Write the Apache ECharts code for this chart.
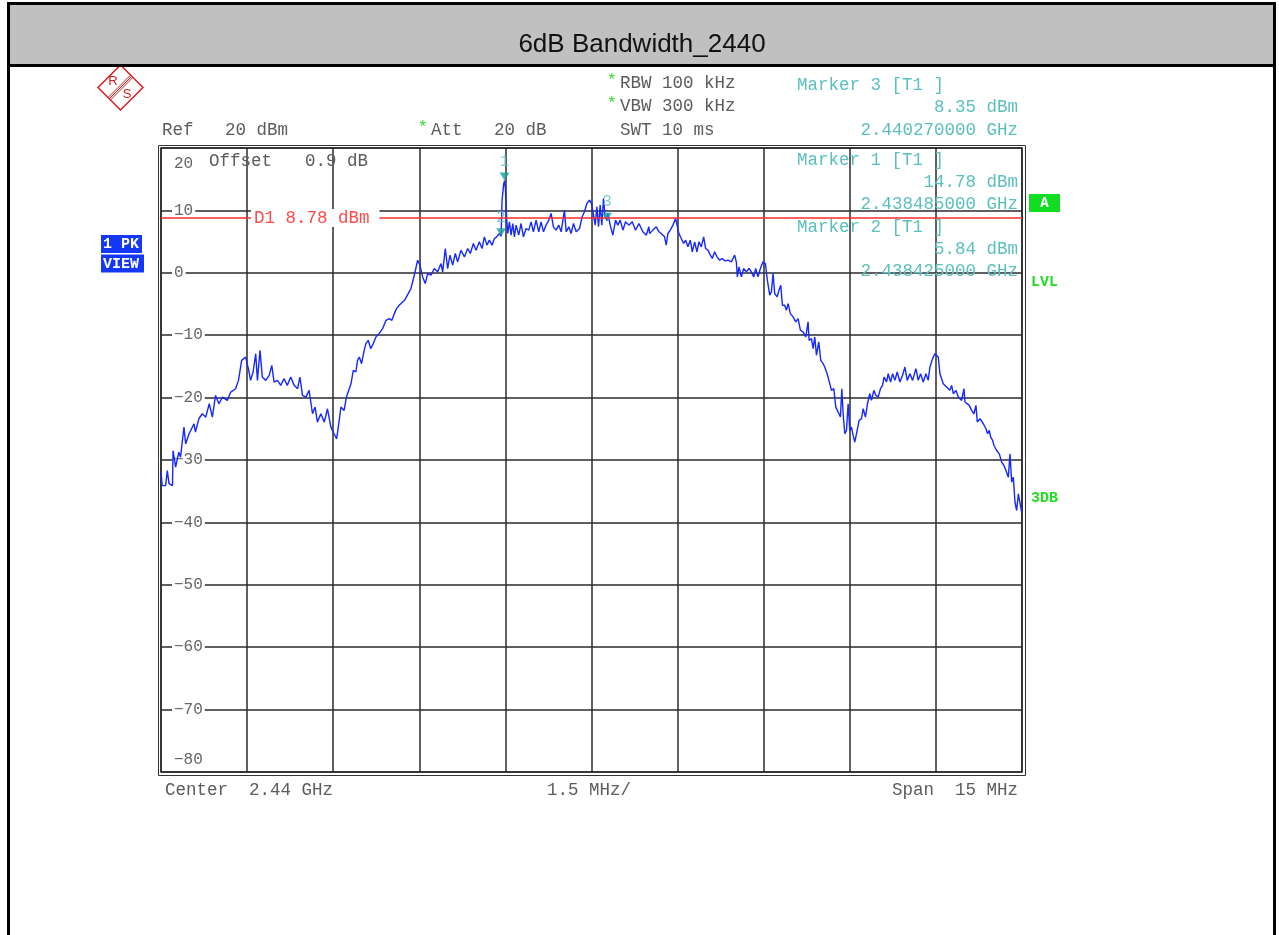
<!DOCTYPE html>
<html><head><meta charset="utf-8">
<script src="https://cdn.jsdelivr.net/npm/echarts@6/dist/echarts.min.js"></script>
<style>html,body{margin:0;padding:0;background:#fff}#c{width:1279px;height:935px}</style>
</head><body><div id="c"></div>
<script>
// ---- axis ranges (offset from centre 2.44 GHz, MHz / dBm) ----
const xMinMHz = -7.5, xMaxMHz = 7.5, xStepMHz = 1.5;
const yMinDbm = -80, yMaxDbm = 20, yStepDbm = 10;

// ---- trace: frequency offset from 2.44 GHz (MHz) ----
const freqOffsetMHz = [
 -7.50,-7.48,-7.42,-7.39,-7.36,-7.30,-7.29,-7.245,-7.19,-7.16,-7.10,-7.07,-7.01,-6.925,-6.90,-6.84,-6.78,-6.72,-6.66,-6.605,
 -6.55,-6.49,-6.43,-6.345,-6.285,-6.20,-6.15,-6.095,-6.025,-5.965,-5.94,-5.895,-5.85,-5.82,-5.775,-5.735,-5.675,-5.615,-5.57,-5.53,
 -5.47,-5.415,-5.355,-5.30,-5.24,-5.18,-5.12,-5.08,-5.035,-4.975,-4.92,-4.86,-4.815,-4.775,-4.715,-4.655,-4.60,-4.54,-4.485,-4.44,
 -4.395,-4.365,-4.31,-4.27,-4.22,-4.19,-4.15,-4.105,-4.076,-4.045,-4.006,-3.96,-3.93,-3.89,-3.845,-3.803,-3.756,-3.70,-3.64,-3.58,
 -3.523,-3.477,-3.435,-3.396,-3.35,-3.25,
 -3.146,-3.087,-3.029,-2.989,-2.942,-2.896,-2.855,-2.797,-2.739,-2.68,
 -2.622,-2.593,-2.547,-2.506,-2.465,-2.419,-2.372,-2.332,-2.273,-2.215,
 -2.157,-2.111,-2.058,-2.012,-1.954,-1.907,-1.867,-1.82,-1.779,-1.733,
 -1.692,-1.651,-1.605,-1.575,-1.558,-1.53,-1.515,-1.50,-1.477,-1.459,
 -1.43,-1.401,-1.372,-1.343,-1.314,-1.268,-1.227,-1.186,-1.14,-1.093,
 -1.052,-1.012,-0.965,-0.919,-0.878,-0.837,-0.791,-0.744,-0.704,-0.663,
 -0.617,-0.57,-0.529,-0.471,-0.442,-0.395,-0.355,-0.314,-0.267,-0.209,
 -0.163,-0.122,-0.081,-0.035,0.0,0.035,0.064,0.093,0.122,0.151,
 0.18,0.209,0.238,0.27,0.285,0.326,0.372,0.419,0.459,0.5,
 0.547,0.593,0.651,0.71,0.767,0.826,0.895,0.954,1.0,
 1.012,1.07,1.128,1.175,1.215,1.273,1.302,1.331,1.372,1.419,
 1.465,1.488,1.523,1.564,1.605,1.64,1.68,1.721,1.756,1.797,
 1.837,1.872,1.913,1.954,1.988,2.029,2.07,2.105,2.145,2.186,
 2.233,2.279,2.32,2.378,2.436,2.494,2.523,2.541,2.57,2.611,
 2.651,2.698,2.744,2.785,2.826,2.86,2.901,2.942,2.988,3.029,
 3.064,3.105,3.134,3.163,3.192,3.233,3.267,3.297,3.326,3.366,
 3.395,3.425,3.465,3.512,3.558,3.599,3.64,3.686,3.733,3.773,
 3.791,3.832,3.861,3.89,3.919,3.959,
 3.994,4.035,4.064,4.105,4.151,4.18,4.221,4.256,4.297,4.337,
 4.361,4.384,4.413,4.442,4.471,4.5,4.529,4.558,4.587,4.616,
 4.663,4.704,4.733,4.773,4.808,4.849,4.878,4.919,4.954,4.994,
 5.035,5.07,5.099,5.14,5.169,5.21,5.245,5.286,5.326,5.373,
 5.419,5.46,5.501,5.547,5.594,5.652,5.692,5.733,5.78,5.826,
 5.866,5.896,5.942,5.983,6.012,6.041,6.07,6.099,6.128,6.186,
 6.244,6.274,6.303,6.349,6.39,6.448,6.489,6.506,6.535,6.582,
 6.622,6.663,6.698,6.721,6.768,6.797,6.826,6.872,6.901,6.93,
 6.954,6.989,7.012,7.058,7.105,7.145,7.186,7.221,7.262,7.291,
 7.32,7.349,7.378,7.407,7.436,7.465,7.494
];
// ---- trace: level (dBm) ----
const levelDbm = [
 -31.95,-34.1,-34.1,-31.7,-33.8,-34.1,-28.5,-31.15,-28.75,-29.55,-24.73,-27.41,-25.8,-24.2,-25.53,-23.39,-22.59,-23.13,-20.99,-23.13,
 -19.65,-20.99,-19.92,-20.45,-19.11,-18.58,-17.24,-14.03,-13.5,-15.9,-17.24,-15.9,-12.96,-17.24,-12.43,-16.71,-17.24,-16.44,-14.83,-17.51,
 -17.24,-18.04,-16.97,-18.04,-16.71,-18.04,-18.58,-16.71,-19.65,-19.92,-18.85,-22.59,-21.52,-23.93,-22.59,-23.93,-21.79,-24.73,-25.8,-26.6,
 -23.66,-21.52,-22.06,-19.92,-18.58,-17.78,-15.64,-15.9,-14.03,-13.5,-14.57,-12.43,-11.36,-10.82,-12.16,-11.36,-10.29,-9.75,-8.95,-7.61,
 -7.34,-7.61,-6.54,-5.74,-5.2,-4.3,
 -2.53,-0.39,2.02,1.22,-0.66,-1.73,-0.12,-0.39,0.68,0.15,
 1.48,0.15,3.89,0.68,2.82,1.22,3.09,1.75,3.62,2.55,
 3.89,3.09,4.69,3.62,4.96,3.89,5.76,4.43,5.23,4.43,
 5.5,5.76,6.3,5.84,11.65,14.2,14.78,13.6,8.44,6.3,
 8.17,6.03,7.9,5.76,7.64,6.03,7.9,5.76,7.1,6.83,
 8.17,6.57,8.44,6.57,8.17,6.57,7.64,8.44,9.51,7.37,
 6.83,7.64,6.57,10.04,6.57,7.37,6.3,7.9,6.57,7.1,
 8.97,9.78,11.11,11.65,11.11,9.24,7.64,10.58,7.37,10.85,
 7.64,11.92,8.97,8.35,9.51,7.64,6.03,8.44,7.64,8.44,
 6.83,8.17,7.64,8.17,6.83,7.9,6.57,6.03,7.37,
 6.3,6.84,7.37,6.57,6.3,5.77,4.43,6.3,6.84,7.64,
 8.71,8.44,6.3,5.5,4.7,5.23,4.16,5.23,3.36,4.97,
 3.36,4.97,4.16,5.77,3.9,3.63,2.83,2.29,3.36,2.56,
 2.02,2.29,1.92,2.02,1.76,2.83,1.76,-0.65,0.95,-0.65,
 0.69,0.15,0.69,0.15,-0.65,0.69,-0.65,0.69,1.76,1.49,
 -1.19,-3.59,-3.06,-0.12,-3.33,-3.86,-2.79,-1.99,-5.2,-5.2,
 -6.0,-4.93,-6.54,-7.07,-7.87,-7.34,-9.21,-9.48,-10.28,-7.87,
 -10.82,-10.55,-12.15,-10.28,-13.22,-11.08,
 -14.03,-14.56,-15.1,-16.17,-17.77,-18.84,-18.57,-21.52,-22.32,-23.12,
 -18.57,-22.59,-25.8,-25.26,-20.98,-25.26,-24.73,-26.06,-27.13,-25.8,
 -23.66,-23.39,-21.78,-23.12,-20.98,-19.38,-20.45,-18.84,-19.64,-19.91,
 -18.57,-18.04,-16.7,-17.5,-16.17,-17.5,-16.17,-17.24,-15.9,-17.5,
 -16.43,-15.1,-17.24,-16.17,-17.24,-15.36,-17.24,-16.17,-17.5,-16.17,
 -17.24,-15.1,-13.76,-12.96,-12.69,-13.49,-16.17,-15.9,-17.77,-18.31,
 -18.84,-18.04,-19.38,-18.84,-19.91,-20.45,-18.57,-20.71,-20.98,-21.25,
 -22.05,-22.59,-21.25,-23.92,-23.39,-23.66,-24.19,-24.99,-25.8,-25.26,
 -26.33,-26.87,-27.67,-28.47,-29.01,-30.34,-30.88,-31.68,-32.75,-29.01,
 -33.55,-32.75,-36.77,-38.1,-35.43,-35.43,-38.37
];

// ---- markers ----
const markerNames = ['1', '2', '3'];
const markerFreqMHz = [-1.515, -1.575, 0.27];
const markerLevelDbm = [14.78, 5.84, 8.35];
const d1LevelDbm = 8.78;

const chart = echarts.init(document.getElementById('c'));
const n = Math.min(freqOffsetMHz.length, levelDbm.length);
const tracePts = [];
for (let i = 0; i < n; i++) tracePts.push([freqOffsetMHz[i], levelDbm[i]]);
const markerPts = markerNames.map((m, i) => [markerFreqMHz[i], markerLevelDbm[i], m]);

const MONO = "'Liberation Mono', 'Courier New', monospace";
const GRIDC = '#2a2a2a';
const TXT = '#5c5c5c';
const labStyle = { color: '#666', fontFamily: MONO, fontSize: 16 };

chart.setOption({
  animation: false,
  backgroundColor: '#fff',
  grid: { left: 161, top: 148, width: 861, height: 624, show: true, borderColor: GRIDC, borderWidth: 1.5 },
  xAxis: {
    type: 'value', min: xMinMHz, max: xMaxMHz, interval: xStepMHz,
    axisLine: { show: false }, axisTick: { show: false }, axisLabel: { show: false },
    splitLine: { show: true, lineStyle: { color: GRIDC, width: 1.5 } }
  },
  yAxis: {
    type: 'value', min: yMinDbm, max: yMaxDbm, interval: yStepDbm,
    axisLine: { show: false }, axisTick: { show: false },
    axisLabel: {
      inside: true, margin: 11, color: '#666', fontFamily: MONO, fontSize: 16,
      verticalAlignMinLabel: 'bottom', verticalAlignMaxLabel: 'top',
      formatter: v => {
        const s = (v < 0 ? '\u2212' : '') + Math.abs(v);
        if (v === yMaxDbm) return '{t|' + s + '}';
        if (v === yMinDbm) return '{b|' + s + '}';
        return '{v|' + s + '}';
      },
      rich: {
        v: Object.assign({ backgroundColor: '#fff', padding: [0, 2] }, labStyle),
        t: Object.assign({ padding: [8, 2, 0, 2] }, labStyle),
        b: Object.assign({ padding: [0, 2, 4, 2] }, labStyle)
      }
    },
    splitLine: { show: true, lineStyle: { color: GRIDC, width: 1.5 } }
  },
  series: [
    {
      type: 'line', data: tracePts, showSymbol: false, symbol: 'none', clip: true, z: 3,
      lineStyle: { color: '#1428ff', width: 1.4 },
      markLine: {
        silent: true, symbol: 'none', animation: false,
        label: { show: false },
        lineStyle: { color: '#ff2a2a', width: 1.5, type: 'solid' },
        data: [{ yAxis: d1LevelDbm }]
      }
    },
    {
      type: 'scatter', data: markerPts, z: 4,
      symbol: 'triangle', symbolRotate: 180, symbolSize: [10, 8], symbolOffset: [0, -4],
      itemStyle: { color: '#17a0a0' },
      label: {
        show: true, position: 'top', distance: 3, formatter: p => p.data[2],
        color: '#5cc2c2', fontFamily: MONO, fontSize: 16
      }
    }
  ]
});

function T(text, x, y, o) {
  o = o || {};
  return {
    type: 'text', z: o.z || 10,
    style: {
      text: text, x: x, y: y, fill: o.fill || TXT,
      font: (o.weight || 'normal') + ' ' + (o.size || 17.5) + 'px ' + (o.family || MONO),
      textAlign: o.align || 'left', textVerticalAlign: 'middle',
      backgroundColor: o.bg, padding: o.pad
    }
  };
}
const CY = '#5abfbf', GR = '#22dd22', RED = '#d81e1e';
const d1y = chart.convertToPixel({ yAxisIndex: 0 }, d1LevelDbm);
const cx = 120.5, cy = 87.5, r = 22.5;

chart.setOption({
  graphic: [
    // page frame & title bar
    { type: 'rect', z: 20, shape: { x: 8.5, y: 3.5, width: 1266, height: 62 }, style: { fill: '#c0c0c0', stroke: '#000', lineWidth: 3 } },
    { type: 'line', z: 20, shape: { x1: 8.5, y1: 3, x2: 8.5, y2: 935 }, style: { stroke: '#000', lineWidth: 3 } },
    { type: 'line', z: 20, shape: { x1: 1274.5, y1: 3, x2: 1274.5, y2: 935 }, style: { stroke: '#000', lineWidth: 3 } },
    T('6dB Bandwidth_2440', 642, 45, { family: "'Liberation Sans', Arial, sans-serif", size: 26, fill: '#111', align: 'center', z: 21 }),
    // R&S logo
    { type: 'polygon', z: 10, shape: { points: [[cx, cy - r], [cx + r, cy], [cx, cy + r], [cx - r, cy]] }, style: { fill: 'none', stroke: RED, lineWidth: 1.5 } },
    { type: 'line', z: 10, shape: { x1: cx - r / 2 - 1.2, y1: cy + r / 2 - 1.2, x2: cx + r / 2 - 1.2, y2: cy - r / 2 - 1.2 }, style: { stroke: RED, lineWidth: 1 } },
    { type: 'line', z: 10, shape: { x1: cx - r / 2, y1: cy + r / 2, x2: cx + r / 2, y2: cy - r / 2 }, style: { stroke: RED, lineWidth: 1 } },
    { type: 'line', z: 10, shape: { x1: cx - r / 2 + 1.2, y1: cy + r / 2 + 1.2, x2: cx + r / 2 + 1.2, y2: cy - r / 2 + 1.2 }, style: { stroke: RED, lineWidth: 1 } },
    T('R', 113, 81, { family: "'Liberation Sans', sans-serif", size: 13, fill: RED, align: 'center' }),
    T('S', 127, 94, { family: "'Liberation Sans', sans-serif", size: 13, fill: RED, align: 'center' }),
    // outer frame of the diagram (double line)
    { type: 'rect', z: 5, shape: { x: 158.5, y: 145.5, width: 867, height: 630 }, style: { fill: 'none', stroke: '#333', lineWidth: 1 } },
    // header
    T('Ref   20 dBm', 162, 130),
    T('*', 418, 128, { fill: GR, size: 16 }),
    T('Att   20 dB', 431, 130),
    T('*', 607, 81, { fill: GR, size: 16 }),
    T('RBW 100 kHz', 620, 83),
    T('*', 607, 104, { fill: GR, size: 16 }),
    T('VBW 300 kHz', 620, 106.5),
    T('SWT 10 ms', 620, 130),
    T('Marker 3 [T1 ]', 797, 85, { fill: CY }),
    T('8.35 dBm', 1018, 107, { fill: CY, align: 'right' }),
    T('2.440270000 GHz', 1018, 130, { fill: CY, align: 'right' }),
    // inside diagram
    T('Offset', 209, 161),
    T('0.9 dB', 305, 161),
    T('Marker 1 [T1 ]', 797, 160, { fill: CY }),
    T('14.78 dBm', 1018, 182, { fill: CY, align: 'right' }),
    T('2.438485000 GHz', 1018, 204, { fill: CY, align: 'right' }),
    T('Marker 2 [T1 ]', 797, 227, { fill: CY }),
    T('5.84 dBm', 1018, 249, { fill: CY, align: 'right' }),
    T('2.438425000 GHz', 1018, 271, { fill: CY, align: 'right' }),
    T('D1 8.78 dBm', 251, d1y, { fill: '#ff4a4a', bg: '#fff', pad: [0, 10, 0, 3] }),
    // left side boxes
    { type: 'rect', z: 10, shape: { x: 101, y: 235, width: 41, height: 18 }, style: { fill: '#1438f5' } },
    T('1 PK', 103, 244.5, { fill: '#fff', weight: 'bold', size: 15 }),
    { type: 'rect', z: 10, shape: { x: 101, y: 254.5, width: 43, height: 18 }, style: { fill: '#1438f5' } },
    T('VIEW', 103, 264, { fill: '#fff', weight: 'bold', size: 15 }),
    // right side
    { type: 'rect', z: 10, shape: { x: 1029, y: 194, width: 31, height: 18 }, style: { fill: '#11dd22' } },
    T('A', 1044.5, 203.5, { fill: '#fff', weight: 'bold', size: 14, align: 'center' }),
    T('LVL', 1031, 282, { fill: GR, weight: 'bold', size: 15 }),
    T('3DB', 1031, 498.5, { fill: GR, weight: 'bold', size: 15 }),
    // footer
    T('Center  2.44 GHz', 165, 790.5),
    T('1.5 MHz/', 547, 790.5),
    T('Span  15 MHz', 892, 790.5)
  ]
});
</script>
</body></html>
